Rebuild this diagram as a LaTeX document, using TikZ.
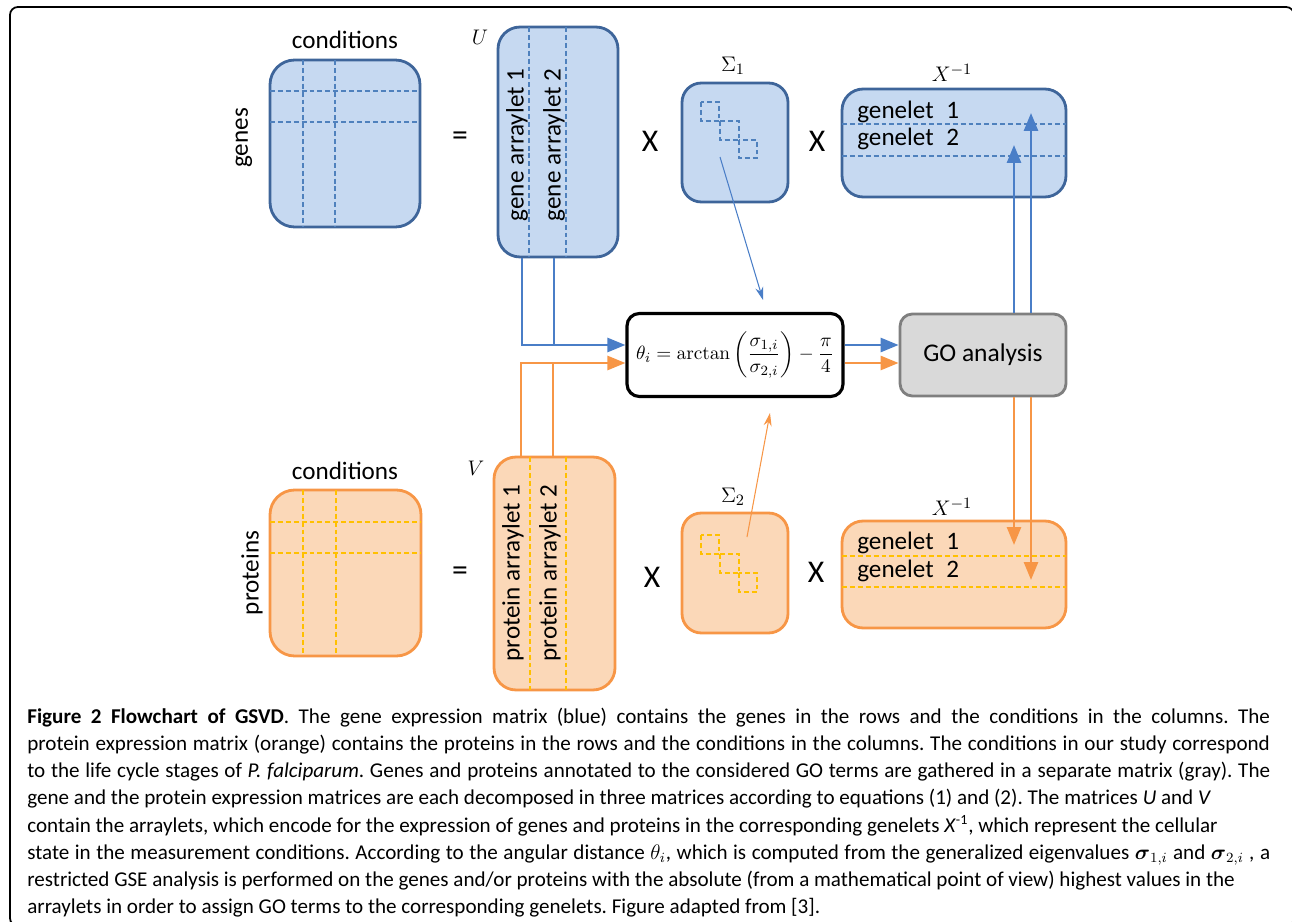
\documentclass[tikz,border=0pt]{standalone}
\usepackage[no-math]{fontspec}
\setmainfont{Carlito}
\usepackage{amsmath}
\usetikzlibrary{arrows.meta,positioning,calc}
\definecolor{bluefill}{HTML}{C6D9F1}
\definecolor{blueline}{HTML}{3E659A}
\definecolor{bluedash}{HTML}{4F81BD}
\definecolor{blueconn}{HTML}{4A7EC7}
\definecolor{orangefill}{HTML}{FBD8B8}
\definecolor{orangeline}{HTML}{F79646}
\definecolor{orangedash}{HTML}{FFC000}
\definecolor{gofill}{HTML}{D9D9D9}
\definecolor{goline}{HTML}{7F7F7F}
\frenchspacing
\tikzset{
  bluemat/.style={draw=blueline, fill=bluefill, line width=1.6pt, inner sep=0pt},
  orangemat/.style={draw=orangeline, fill=orangefill, line width=1.6pt, inner sep=0pt},
  bluedashed/.style={draw=bluedash, line width=0.7pt, dash pattern=on 2.8pt off 1.7pt},
  orangedashed/.style={draw=orangedash, line width=0.7pt, dash pattern=on 2.8pt off 1.7pt},
  lab/.style={inner sep=0pt, font=\fontsize{14.3}{17}\selectfont},
  opsign/.style={inner sep=0pt, font=\fontsize{18}{22}\selectfont},
  mathlab/.style={inner sep=0pt, font=\fontsize{12.5}{15}\selectfont},
  thetabox/.style={draw=black, fill=white, line width=1.8pt, rounded corners=7pt, inner sep=0pt, minimum width=4.32cm, minimum height=1.66cm},
  gobox/.style={draw=goline, fill=gofill, line width=1.6pt, rounded corners=7pt, inner sep=0pt, minimum width=3.32cm, minimum height=1.64cm, font=\fontsize{14.5}{17}\selectfont},
  blueconn/.style={draw=blueconn, line width=1.5pt},
  orangeconn/.style={draw=orangeline, line width=1.5pt},
  arrowtip/.style={-{Triangle[length=3.6mm, width=2.8mm]}},
  thinarrow/.style={line width=0.6pt, -{Stealth[length=2.6mm, width=1.6mm]}},
  captxt/.style={inner sep=0pt, align=justify, text width=24.86cm, font=\fontsize{12}{15.4}\selectfont}
}
\begin{document}
\begin{tikzpicture}[x=0.02cm, y=-0.02cm]
  \useasboundingbox (0,0) rectangle (1292,922);
  \draw[line width=1pt, rounded corners=4.5pt] (10,7) rectangle (1294,926);

  % gene expression decomposition
  \node[bluemat, rounded corners=14pt, minimum width=3cm, minimum height=3.34cm] (gmat) at (345,143.5) {};
  \draw[bluedashed] (303,60) -- (303,227);
  \draw[bluedashed] (335,60) -- (335,227);
  \draw[bluedashed] (270,91) -- (420,91);
  \draw[bluedashed] (270,122) -- (420,122);
  \node[lab] (gcond) at (345,40) {conditions};
  \node[lab, rotate=90] (grows) at (244,138) {genes};
  \node[opsign] (geq) at (460,139) {=};

  \node[bluemat, rounded corners=12.5pt, minimum width=2.4cm, minimum height=4.6cm] (umat) at (558,142) {};
  \draw[bluedashed] (529,27) -- (529,257);
  \draw[bluedashed] (566,27) -- (566,257);
  \node[mathlab] (ulab) at (480,37) {$U$};
  \node[lab, rotate=90] (uarr1) at (517,145) {gene arraylet 1};
  \node[lab, rotate=90] (uarr2) at (554,145) {gene arraylet 2};
  \node[opsign] (gx1) at (650,141) {X};

  \node[bluemat, rounded corners=11pt, minimum width=2.12cm, minimum height=2.38cm] (s1mat) at (735,142.5) {};
  \draw[bluedashed] (701,102) rectangle (719,121);
  \draw[bluedashed] (720,121) rectangle (739,140);
  \draw[bluedashed] (739,140) rectangle (757,158);
  \node[mathlab] (s1lab) at (733,66) {$\Sigma_1$};
  \node[opsign] (gx2) at (817,141) {X};

  \node[bluemat, rounded corners=12pt, minimum width=4.48cm, minimum height=2.16cm] (xgmat) at (954,143) {};
  \draw[bluedashed] (842,124) -- (1066,124);
  \draw[bluedashed] (842,156) -- (1066,156);
  \node[mathlab] (xglab) at (952,73) {$X^{-1}$};
  \node[lab, anchor=west] (ggen1) at (857,112) {genelet\enspace 1};
  \node[lab, anchor=west] (ggen2) at (857,139) {genelet\enspace 2};

  % protein expression decomposition
  \node[orangemat, rounded corners=14pt, minimum width=3.02cm, minimum height=3.32cm] (pmat) at (345.5,573) {};
  \draw[orangedashed] (303,490) -- (303,656);
  \draw[orangedashed] (336,490) -- (336,656);
  \node[lab] (pcond) at (345,471) {conditions};
  \node[lab, rotate=90] (prows) at (252,573) {proteins};
  \draw[orangedashed] (270,522) -- (421,522);
  \draw[orangedashed] (270,553) -- (421,553);
  \node[opsign] (peq) at (460,574) {=};

  \node[orangemat, rounded corners=12.5pt, minimum width=2.42cm, minimum height=4.66cm] (vmat) at (554.5,573.5) {};
  \draw[orangedashed] (530,457) -- (530,690);
  \draw[orangedashed] (566,457) -- (566,690);
  \node[mathlab] (vlab) at (476,468) {$V$};
  \node[lab, rotate=90] (varr1) at (513,573) {protein arraylet 1};
  \node[lab, rotate=90] (varr2) at (550,573) {protein arraylet 2};
  \node[opsign] (px1) at (652,577) {X};

  \node[orangemat, rounded corners=11pt, minimum width=2.12cm, minimum height=2.4cm] (s2mat) at (735,573) {};
  \draw[orangedashed] (701,535) rectangle (719,554);
  \draw[orangedashed] (720,554) rectangle (739,573);
  \draw[orangedashed] (739,573) rectangle (757,592);
  \node[mathlab] (s2lab) at (733,497) {$\Sigma_2$};
  \node[opsign] (px2) at (816,572) {X};

  \node[orangemat, rounded corners=12pt, minimum width=4.48cm, minimum height=2.14cm] (xpmat) at (954,574.5) {};
  \draw[orangedashed] (842,556) -- (1066,556);
  \draw[orangedashed] (842,587) -- (1066,587);
  \node[mathlab] (xplab) at (952,507) {$X^{-1}$};
  \node[lab, anchor=west] (pgen1) at (857,543) {genelet\enspace 1};
  \node[lab, anchor=west] (pgen2) at (857,571) {genelet\enspace 2};

  % angular distance and GO analysis
  \node[thetabox, font=\fontsize{11}{13}\selectfont] (thbox) at (735,355)
    {$\theta_i=\arctan\left(\dfrac{\sigma_{1,i}}{\sigma_{2,i}}\right)-\dfrac{\pi}{4}$};
  \node[gobox] (gobox) at (983,355) {GO analysis};

  \coordinate (bin) at ([yshift=0.2cm]thbox.west);
  \coordinate (oin) at ([yshift=-0.16cm]thbox.west);
  \draw[blueconn, arrowtip] ([xshift=-0.72cm]umat.south) |- (bin);
  \draw[blueconn] ([xshift=-0.08cm]umat.south) -- ([xshift=-0.08cm]umat.south |- bin);
  \draw[orangeconn, arrowtip] ([xshift=-0.67cm]vmat.north) |- (oin);
  \draw[orangeconn] ([xshift=-0.03cm]vmat.north) -- ([xshift=-0.03cm]vmat.north |- oin);

  \draw[blueconn, arrowtip] ([yshift=0.2cm]thbox.east) -- ([yshift=0.2cm]thbox.east -| gobox.west);
  \draw[orangeconn, arrowtip] ([yshift=-0.16cm]thbox.east) -- ([yshift=-0.16cm]thbox.east -| gobox.west);

  \coordinate (xg2) at (1014,145);
  \coordinate (xg1) at (1031,113);
  \coordinate (xp1) at (1014,545);
  \coordinate (xp2) at (1031,580);
  \draw[blueconn, arrowtip] (gobox.north -| xg2) -- (xg2);
  \draw[blueconn, arrowtip] (gobox.north -| xg1) -- (xg1);
  \draw[orangeconn, arrowtip] (gobox.south -| xp1) -- (xp1);
  \draw[orangeconn, arrowtip] (gobox.south -| xp2) -- (xp2);

  \coordinate (s1from) at (720,157);
  \coordinate (s1to) at (763,300);
  \coordinate (s2from) at (747,537);
  \coordinate (s2to) at (770,413);
  \draw[thinarrow, blueconn, line width=0.6pt] (s1from) -- (s1to);
  \draw[thinarrow, orangeconn, line width=0.6pt] (s2from) -- (s2to);

  % caption
  \node[captxt, anchor=north west] (cap) at (27,708) {\tolerance=10000 \hbadness=10000 \textbf{Figure 2 Flowchart of GSVD}. The gene expression matrix (blue) contains the genes in the rows and the conditions in the columns. The\linebreak
    protein expression matrix (orange) contains the proteins in the rows and the conditions in the columns. The conditions in our study correspond\linebreak
    to the life cycle stages of \textit{P. falciparum}. Genes and proteins annotated to the considered GO terms are gathered in a separate matrix (gray). The\linebreak
    gene and the protein expression matrices are each decomposed in three matrices according to equations (1) and (2). The matrices \textit{U} and \textit{V}\newline
    contain the arraylets, which encode for the expression of genes and proteins in the corresponding genelets \textit{X}\textsuperscript{-1}, which represent the cellular\newline
    state in the measurement conditions. According to the angular distance $\theta_i$, which is computed from the generalized eigenvalues $\boldsymbol{\sigma}_{1,i}$ and $\boldsymbol{\sigma}_{2,i}$ , a\linebreak
    restricted GSE analysis is performed on the genes and/or proteins with the absolute (from a mathematical point of view) highest values in the\newline
    arraylets in order to assign GO terms to the corresponding genelets. Figure adapted from [3].};
\end{tikzpicture}
\end{document}
